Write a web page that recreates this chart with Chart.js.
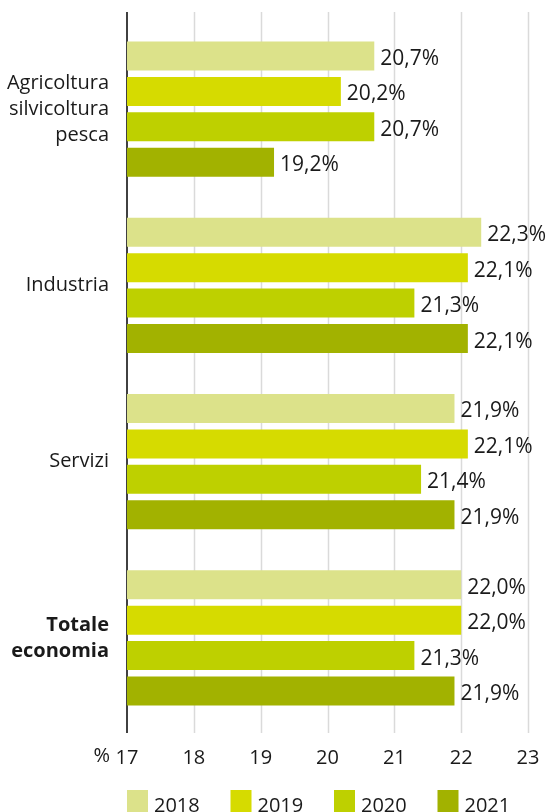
<!DOCTYPE html>
<html>
<head>
<meta charset="utf-8">
<script src="https://cdn.jsdelivr.net/npm/chart.js@4"></script>
<style>
    html, body { margin: 0; padding: 0; background: #fff; overflow: hidden; }
    #wrap { width: 552px; height: 812px; position: relative; }
</style>
</head>
<body>
<div id="wrap"><canvas id="chart"></canvas></div>
<script>
const categories = [["Agricoltura", "silvicoltura", "pesca"], "Industria", "Servizi", ["Totale", "economia"]];
const years = ["2018", "2019", "2020", "2021"];
const values2018 = [20.7, 22.3, 21.9, 22.0];
const values2019 = [20.2, 22.1, 22.1, 22.0];
const values2020 = [20.7, 21.3, 21.4, 21.3];
const values2021 = [19.2, 22.1, 21.9, 21.9];
const xTicks = [17, 18, 19, 20, 21, 22, 23];

const colors = ["#dce28a", "#d6db00", "#bed000", "#a2b200"];
const textColor = "#1a1a1a";
const fontFamily = "'Open Sans', sans-serif";

// grid lines and the black axis stick out a little above and below the plot
const gridPlugin = {
    id: "gridLines",
    beforeDatasetsDraw(chart) {
        const { ctx, chartArea, scales } = chart;
        const top = chartArea.top - 9;
        const bottom = chartArea.bottom + 7;
        ctx.save();
        ctx.strokeStyle = "#dadada";
        ctx.lineWidth = 1.5;
        xTicks.slice(1).forEach(t => {
            const x = Math.round(scales.x.getPixelForValue(t)) + 0.5;
            ctx.beginPath();
            ctx.moveTo(x, top);
            ctx.lineTo(x, bottom);
            ctx.stroke();
        });
        ctx.strokeStyle = "#111";
        ctx.lineWidth = 1.6;
        const x0 = scales.x.getPixelForValue(xTicks[0]);
        ctx.beginPath();
        ctx.moveTo(x0, top);
        ctx.lineTo(x0, bottom);
        ctx.stroke();
        ctx.restore();
    }
};

const labelPlugin = {
    id: "valueLabels",
    afterDatasetsDraw(chart) {
        const { ctx, chartArea, scales } = chart;
        ctx.save();
        ctx.font = "21px " + fontFamily;
        ctx.fillStyle = textColor;
        ctx.textBaseline = "middle";
        ctx.textAlign = "left";
        chart.data.datasets.forEach((ds, i) => {
            chart.getDatasetMeta(i).data.forEach((bar, j) => {
                const txt = ds.data[j].toFixed(1).replace(".", ",") + "%";
                ctx.fillText(txt, bar.x + 6, bar.y + 3);
            });
        });

        // "%" in front of the first tick
        ctx.font = "20px " + fontFamily;
        ctx.textAlign = "right";
        ctx.fillText("%", scales.x.getPixelForValue(xTicks[0]) - 17, chartArea.bottom + 30);

        // legend
        ctx.textBaseline = "alphabetic";
        const left = chartArea.left;
        years.forEach((y, i) => {
            const x = left + i * 103.5;
            ctx.fillStyle = colors[i];
            ctx.fillRect(x, 790, 21, 22);
            ctx.fillStyle = textColor;
            ctx.textAlign = "left";
            ctx.fillText(y, x + 27, 812);
        });
        ctx.restore();
    }
};

new Chart(document.getElementById("chart"), {
    type: "bar",
    data: {
        labels: categories,
        datasets: [
            { label: years[0], data: values2018, backgroundColor: colors[0] },
            { label: years[1], data: values2019, backgroundColor: colors[1] },
            { label: years[2], data: values2020, backgroundColor: colors[2] },
            { label: years[3], data: values2021, backgroundColor: colors[3] }
        ]
    },
    options: {
        indexAxis: "y",
        responsive: true,
        maintainAspectRatio: false,
        animation: false,
        categoryPercentage: 0.805,
        barPercentage: 0.817,
        layout: {
            padding: { top: 21, right: 24, bottom: 0, left: 0 }
        },
        plugins: {
            legend: { display: false },
            tooltip: { enabled: false }
        },
        scales: {
            x: {
                min: 17,
                max: 23,
                grid: { display: false },
                border: { display: false },
                afterFit(scale) { scale.height = 86; },
                afterBuildTicks(scale) { scale.ticks = xTicks.map(v => ({ value: v })); },
                ticks: {
                    color: textColor,
                    padding: 12,
                    maxRotation: 0,
                    font: { family: fontFamily, size: 20 },
                    callback: v => String(v)
                }
            },
            y: {
                grid: { display: false },
                border: { display: false },
                afterFit(scale) {
                    scale.width = 127;
                    scale.paddingTop = 0;
                    scale.paddingBottom = 0;
                },
                ticks: {
                    color: textColor,
                    padding: 10,
                    font: ctx => ({
                        family: fontFamily,
                        size: 20,
                        lineHeight: 1.3,
                        weight: ctx.index === 3 ? "bold" : "normal"
                    })
                }
            }
        }
    },
    plugins: [gridPlugin, labelPlugin]
});
</script>
</body>
</html>
